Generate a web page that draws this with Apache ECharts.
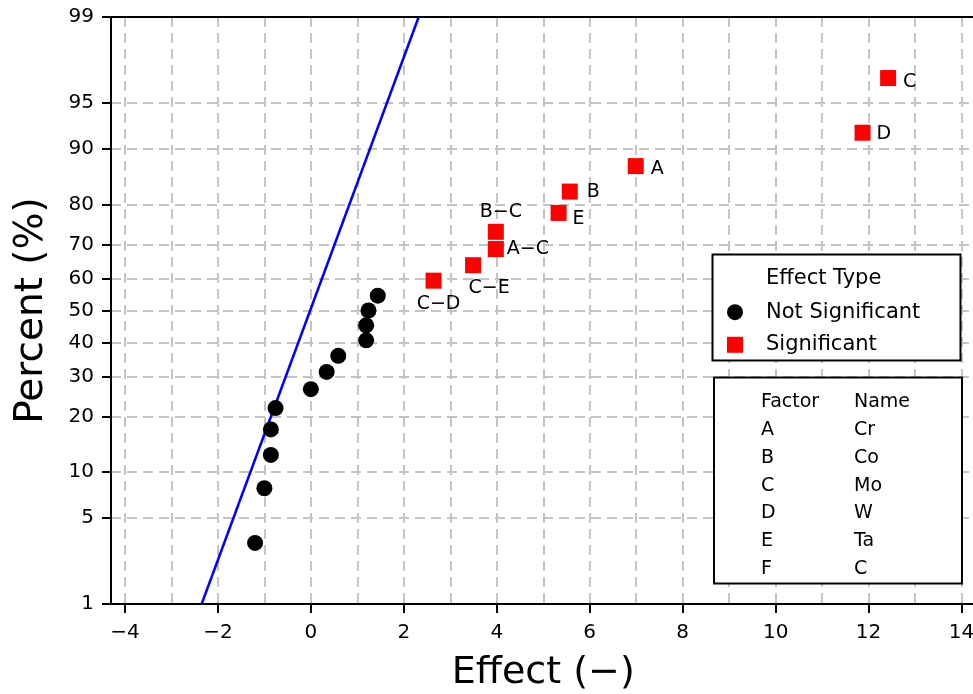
<!DOCTYPE html>
<html><head><meta charset="utf-8">
<script src="https://cdn.jsdelivr.net/npm/echarts@6/dist/echarts.min.js"></script>
<style>html,body{margin:0;padding:0;background:#fff}#c{width:973px;height:694px}</style>
</head><body><div id="c"></div>
<script>
// ---- data ----
const notSigX   = [-1.20, -1.00, -0.86, -0.86, -0.76, 0.00, 0.34, 0.59, 1.19, 1.19, 1.24, 1.44];
const notSigPct = [3.27, 7.94, 12.62, 17.29, 21.96, 26.64, 31.31, 35.98, 40.65, 45.33, 50.00, 54.67];
const sigLabels = ['C\u2212D', 'C\u2212E', 'A\u2212C', 'B\u2212C', 'E', 'B', 'A', 'D', 'C'];
const sigX      = [2.64, 3.49, 3.98, 3.98, 5.33, 5.57, 6.99, 11.87, 12.42];
const sigPct    = [59.35, 64.02, 68.69, 73.36, 78.04, 82.71, 87.38, 92.06, 96.73];
const fitX      = [-2.35, 2.32];
const fitPct    = [1, 99];
const yTickPct  = [1, 5, 10, 20, 30, 40, 50, 60, 70, 80, 90, 95, 99];
const xTickVals = [-4, -2, 0, 2, 4, 6, 8, 10, 12, 14];
const xGridVals = [-4, -3, -2, -1, 0, 1, 2, 3, 4, 5, 6, 7, 8, 9, 10, 11, 12, 13, 14];
const factorLetters = ['A', 'B', 'C', 'D', 'E', 'F'];
const factorNames   = ['Cr', 'Co', 'Mo', 'W', 'Ta', 'C'];

// ---- probit (inverse normal CDF) ----
function probit(p){
  const a=[-3.969683028665376e+01,2.209460984245205e+02,-2.759285104469687e+02,1.383577518672690e+02,-3.066479806614716e+01,2.506628277459239e+00];
  const b=[-5.447609879822406e+01,1.615858368580409e+02,-1.556989798598866e+02,6.680131188771972e+01,-1.328068155288572e+01];
  const c=[-7.784894002430293e-03,-3.223964580411365e-01,-2.400758277161838e+00,-2.549732539343734e+00,4.374664141464968e+00,2.938163982698783e+00];
  const d=[7.784695709041462e-03,3.224671290700398e-01,2.445134137142996e+00,3.754408661907416e+00];
  const pl=0.02425, ph=1-pl; let q,r;
  if(p<pl){q=Math.sqrt(-2*Math.log(p));return (((((c[0]*q+c[1])*q+c[2])*q+c[3])*q+c[4])*q+c[5])/((((d[0]*q+d[1])*q+d[2])*q+d[3])*q+1);}
  if(p<=ph){q=p-0.5;r=q*q;return (((((a[0]*r+a[1])*r+a[2])*r+a[3])*r+a[4])*r+a[5])*q/(((((b[0]*r+b[1])*r+b[2])*r+b[3])*r+b[4])*r+1);}
  q=Math.sqrt(-2*Math.log(1-p));return -(((((c[0]*q+c[1])*q+c[2])*q+c[3])*q+c[4])*q+c[5])/((((d[0]*q+d[1])*q+d[2])*q+d[3])*q+1);
}
const pz = v => probit(v / 100);

// ---- styling ----
const FONT = 'DejaVu Sans';
const grid = '#c4c4c4';
const sigLabelStyle = [
  {position:'bottom', distance:6, offset:[5,0]},
  {position:'bottom', distance:5, offset:[16,0]},
  {position:'right', distance:3, offset:[0,0]},
  {position:'top', distance:2, offset:[5,0]},
  {position:'right', distance:6, offset:[0,6]},
  {position:'right', distance:9, offset:[0,1]},
  {position:'right', distance:7, offset:[0,3]},
  {position:'right', distance:6, offset:[0,1]},
  {position:'right', distance:7, offset:[0,4]}
];
const yTickZ = yTickPct.map(pz);

const chart = echarts.init(document.getElementById('c'), null, {renderer:'canvas'});
const graphics = [
  {type:'rect', z:3, shape:{x:712.5, y:254.5, width:248, height:106}, style:{fill:'#fff', stroke:'#000', lineWidth:2}},
  {type:'text', z:5, x:766, y:279, style:{text:'Effect Type', font:'21px "DejaVu Sans"', fill:'#000', verticalAlign:'middle'}},
  {type:'rect', z:3, shape:{x:714, y:377.5, width:248, height:206}, style:{fill:'#fff', stroke:'#000', lineWidth:2}},
  {type:'text', z:5, x:761, y:401.7, style:{text:'Factor', font:'19px "DejaVu Sans"', fill:'#000', verticalAlign:'middle'}},
  {type:'text', z:5, x:854, y:401.7, style:{text:'Name', font:'19px "DejaVu Sans"', fill:'#000', verticalAlign:'middle'}}
];
factorLetters.forEach((f, i) => {
  graphics.push({type:'text', z:5, x:761, y:430.2 + i*27.7, style:{text:f, font:'19px "DejaVu Sans"', fill:'#000', verticalAlign:'middle'}});
  graphics.push({type:'text', z:5, x:854, y:430.2 + i*27.7, style:{text:factorNames[i], font:'19px "DejaVu Sans"', fill:'#000', verticalAlign:'middle'}});
});

chart.setOption({
  animation:false,
  backgroundColor:'#fff',
  textStyle:{fontFamily:FONT},
  grid:{left:111, top:17, width:864.5, bottom:90, show:true, borderColor:'#000', borderWidth:2,
    backgroundColor:'transparent', containLabel:false, outerBoundsMode:'none'},
  xAxis:[{
    type:'value', min:-4.3, max:14.3,
    name:'Effect (\u2212)', nameLocation:'middle', nameGap:50,
    nameTextStyle:{fontSize:38, color:'#000', fontFamily:FONT},
    axisLine:{show:true, onZero:false, lineStyle:{color:'#000', width:2}},
    axisTick:{show:true, inside:false, length:9, lineStyle:{color:'#000', width:2}, customValues:xTickVals},
    axisLabel:{show:true, margin:19, fontSize:20, color:'#000', fontFamily:FONT, customValues:xTickVals,
      formatter: v => String(Math.round(v)).replace('-', '\u2212')},
    splitLine:{show:false}
  },{
    type:'value', min:-4.3, max:14.3, position:'top', z:1,
    axisLine:{show:true, onZero:false, lineStyle:{color:'#000', width:2}}, axisLabel:{show:false},
    axisTick:{show:false, customValues:xGridVals},
    splitLine:{show:true, lineStyle:{color:grid, width:2, type:[10,6]}}
  }],
  yAxis:{
    type:'value', min:pz(fitPct[0]), max:pz(fitPct[1]),
    name:'Percent (%)', nameLocation:'middle', nameGap:60,
    nameTextStyle:{fontSize:39, color:'#000', fontFamily:FONT},
    axisLine:{show:true, onZero:false, lineStyle:{color:'#000', width:2}},
    axisTick:{show:true, inside:false, length:9, lineStyle:{color:'#000', width:2}, customValues:yTickZ},
    axisLabel:{show:true, margin:17, fontSize:20, color:'#000', fontFamily:FONT, customValues:yTickZ,
      formatter: v => { let best = 0; yTickZ.forEach((z, i) => { if (Math.abs(z - v) < Math.abs(yTickZ[best] - v)) best = i; }); return String(yTickPct[best]); }},
    splitLine:{show:true, lineStyle:{color:grid, width:2, type:[10,6]}}
  },
  legend:{
    show:true, orient:'vertical', left:727, top:301.7, padding:0,
    itemWidth:16, itemHeight:16, itemGap:11.6,
    textStyle:{fontSize:21, color:'#000', fontFamily:FONT, padding:[0,0,0,18]},
    data:[{name:'Not Significant', icon:'circle'}, {name:'Significant', icon:'rect'}],
    z:6
  },
  graphic:graphics,
  series:[
    {type:'line', name:'fit', xAxisIndex:0, data:fitX.map((x, i) => [x, pz(fitPct[i])]),
      symbol:'none', lineStyle:{color:'#0000ff', width:2.5}, z:1, silent:true},
    {type:'scatter', name:'Not Significant', xAxisIndex:0, symbol:'circle', symbolSize:16,
      itemStyle:{color:'#000', opacity:1}, z:3,
      data:notSigX.map((x, i) => [x, pz(notSigPct[i])])},
    {type:'scatter', name:'Significant', xAxisIndex:0, symbol:'rect', symbolSize:16,
      itemStyle:{color:'#ff0000', opacity:1}, z:3,
      label:{show:true, fontSize:19, color:'#000', fontFamily:FONT, formatter:p => p.name},
      data:sigX.map((x, i) => ({name:sigLabels[i], value:[x, pz(sigPct[i])],
        label:Object.assign({show:true}, sigLabelStyle[i])}))}
  ]
});
</script></body></html>
